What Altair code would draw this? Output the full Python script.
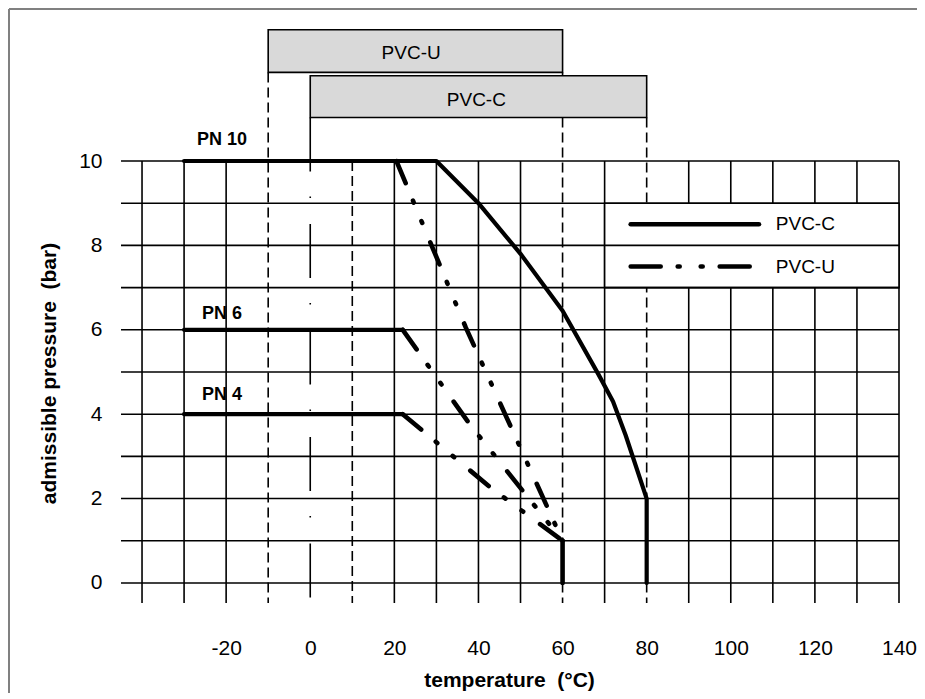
import altair as alt
import pandas as pd

FONT = "Liberation Sans"

# ---------------- data ----------------
GRID_Y = [0, 1, 2, 3, 4, 5, 6, 7, 8, 9, 10]
GRID_X_SOLID = [-40, -30, -20, 20, 30, 40, 50, 70, 90, 100, 110, 120, 130, 140]
GRID_X_DASHED = [-10, 10, 60, 80]
GRID_X_DASHED_TOP = [12.10, 10, 12.10, 11.03]
GRID_X_DASHDOT = [0]
GRID_X_DASHDOT_TOP = [11.03]
GRID_TOP = 10
X_MIN, X_MAX = -45, 140
Y_MIN, Y_MAX = -0.475, 13.2

X_TICKS = [-20, 0, 20, 40, 60, 80, 100, 120, 140]
Y_TICKS = [0, 2, 4, 6, 8, 10]

BOX_LABELS = ["PVC-U", "PVC-C"]
BOX_T0 = [-10, 0]
BOX_T1 = [60, 80]
BOX_P0 = [12.10, 11.03]
BOX_P1 = [13.11, 12.02]
BOX_TEXT_T = [24, 39.5]
BOX_TEXT_P = [12.55, 11.45]

# PVC-C curve (PN 10)
PVC_C_T = [-30, 30, 40, 50, 60, 68.5, 72, 75, 80, 80]
PVC_C_P = [10, 10, 9, 7.8, 6.45, 4.95, 4.3, 3.5, 2.0, 0]

# flat (solid) parts of PN 6 and PN 4
FLAT_NAMES = ["PN 6", "PN 4"]
FLAT_T = [[-30, 22], [-30, 22]]
FLAT_P = [[6, 6], [4, 4]]

# PVC-U sloped parts
PVCU_NAMES = ["PN 10", "PN 6", "PN 4"]
PVCU_T = [[20.5, 37, 60], [22, 38, 60], [22, 43, 60]]
PVCU_P = [[10, 6.05, 1], [6, 3.75, 1], [4, 2.25, 1]]
PVCU_DROP_T = [60, 60]
PVCU_DROP_P = [1, 0]

PN_LABELS = ["PN 10", "PN 6", "PN 4"]
PN_T = [-21, -21, -21]
PN_P = [10.51, 6.38, 4.45]

LEGEND_BOX_T = [70, 140]
LEGEND_BOX_P = [7, 9]
LEGEND_LABELS = ["PVC-C", "PVC-U"]
LEGEND_P = [8.5, 7.5]
LEGEND_LINE_T = [76.2, 106.7]
LEGEND_TEXT_T = 110.7

# ---------------- scales / axes ----------------
xs = alt.Scale(domain=[X_MIN, X_MAX], nice=False, zero=False)
ys = alt.Scale(domain=[Y_MIN, Y_MAX], nice=False, zero=False)

xaxis = alt.Axis(values=X_TICKS, grid=False, ticks=False, domain=False,
                 labelExpr="'' + datum.value",
                 labelFontSize=21, labelFont=FONT, labelColor="black",
                 labelPadding=34, labelFlush=False, labelOverlap=False,
                 title="temperature\u00a0 (°C)", titleFont=FONT, titleFontSize=21,
                 titleFontWeight="bold", titleColor="black",
                 titleX=388, titleY=83.6, titleAlign="center", titleBaseline="alphabetic")
yaxis = alt.Axis(values=Y_TICKS, grid=False, ticks=False, domain=False,
                 labelExpr="'' + datum.value",
                 labelFontSize=21, labelFont=FONT, labelColor="black",
                 labelPadding=19, labelFlush=False, labelOverlap=False,
                 title="admissible pressure\u00a0 (bar)", titleFont=FONT, titleFontSize=21,
                 titleFontWeight="bold", titleColor="black",
                 titleX=-72, titleY=347, titleAngle=270, titleAlign="center",
                 titleBaseline="middle")


def X(f):
    return alt.X(f, type="quantitative", scale=xs, axis=xaxis)


def Y(f):
    return alt.Y(f, type="quantitative", scale=ys, axis=yaxis)


GRID_W = 1.6

# vertical grid lines
vs_df = pd.DataFrame({"t": GRID_X_SOLID, "top": GRID_TOP, "bot": Y_MIN})
v_solid = alt.Chart(vs_df).mark_rule(color="black", strokeWidth=GRID_W).encode(
    x=X("t"), y=Y("top"), y2="bot")

vd_df = pd.DataFrame({"t": GRID_X_DASHED, "top": GRID_X_DASHED_TOP, "bot": Y_MIN})
v_dash = alt.Chart(vd_df).mark_rule(color="black", strokeWidth=GRID_W, strokeDash=[10, 5]).encode(
    x=X("t"), y=Y("top"), y2="bot")

vdd_df = pd.DataFrame({"t": GRID_X_DASHDOT, "top": GRID_X_DASHDOT_TOP, "bot": Y_MIN})
v_dashdot = alt.Chart(vdd_df).mark_rule(color="black", strokeWidth=GRID_W,
                                        strokeDash=[54, 25, 1.5, 26]).encode(
    x=X("t"), y=Y("top"), y2="bot")

# legend box (white, masks grid)
lb_df = pd.DataFrame({"t0": [LEGEND_BOX_T[0]], "t1": [LEGEND_BOX_T[1]],
                      "p0": [LEGEND_BOX_P[0]], "p1": [LEGEND_BOX_P[1]]})
legend_box = alt.Chart(lb_df).mark_rect(fill="white", stroke="black", strokeWidth=GRID_W).encode(
    x=X("t0"), x2="t1", y=Y("p0"), y2="p1")

# horizontal grid lines
h_df = pd.DataFrame({"p": GRID_Y, "l": X_MIN, "r": X_MAX})
h_grid = alt.Chart(h_df).mark_rule(color="black", strokeWidth=GRID_W).encode(
    y=Y("p"), x=X("l"), x2="r")

# top boxes
box_df = pd.DataFrame({"label": BOX_LABELS, "t0": BOX_T0, "t1": BOX_T1,
                       "p0": BOX_P0, "p1": BOX_P1, "tt": BOX_TEXT_T, "tp": BOX_TEXT_P})
boxes = alt.Chart(box_df).mark_rect(fill="#d9d9d9", stroke="black", strokeWidth=GRID_W).encode(
    x=X("t0"), x2="t1", y=Y("p0"), y2="p1")
box_text = alt.Chart(box_df).mark_text(font=FONT, fontSize=19, color="black",
                                       align="center", baseline="middle").encode(
    x=X("tt"), y=Y("tp"), text="label:N")

# PVC-C line
c_df = pd.DataFrame({"t": PVC_C_T, "p": PVC_C_P, "i": range(len(PVC_C_T))})
c_line = alt.Chart(c_df).mark_line(color="black", strokeWidth=4.2, strokeCap="round",
                                   strokeJoin="round").encode(
    x=X("t"), y=Y("p"), order="i:Q")

# flat parts
rows = []
for n, ts, ps in zip(FLAT_NAMES, FLAT_T, FLAT_P):
    for i, (t, p) in enumerate(zip(ts, ps)):
        rows.append({"s": n, "t": t, "p": p, "i": i})
flat = alt.Chart(pd.DataFrame(rows)).mark_line(color="black", strokeWidth=4.2,
                                               strokeCap="round").encode(
    x=X("t"), y=Y("p"), detail="s:N", order="i:Q")

# PVC-U sloped dash-dot-dot parts
rows = []
for n, ts, ps in zip(PVCU_NAMES, PVCU_T, PVCU_P):
    for i, (t, p) in enumerate(zip(ts, ps)):
        rows.append({"s": n, "t": t, "p": p, "i": i})
PVCU_DASH = [24, 19, 2, 20, 2, 21]
u_lines = alt.Chart(pd.DataFrame(rows)).mark_line(color="black", strokeWidth=4.6,
                                                  strokeCap="round", strokeDash=PVCU_DASH).encode(
    x=X("t"), y=Y("p"), detail="s:N", order="i:Q")

drop_df = pd.DataFrame({"t": PVCU_DROP_T, "p": PVCU_DROP_P, "i": [0, 1]})
u_drop = alt.Chart(drop_df).mark_line(color="black", strokeWidth=4.6, strokeCap="round").encode(
    x=X("t"), y=Y("p"), order="i:Q")

# PN labels
pn_df = pd.DataFrame({"label": PN_LABELS, "t": PN_T, "p": PN_P})
pn_text = alt.Chart(pn_df).mark_text(font=FONT, fontSize=18, fontWeight="bold", color="black",
                                     align="center", baseline="middle").encode(
    x=X("t"), y=Y("p"), text="label:N")

# legend entries
leg_df = pd.DataFrame({"label": LEGEND_LABELS, "p": LEGEND_P,
                       "t0": LEGEND_LINE_T[0], "t1": LEGEND_LINE_T[1], "tt": LEGEND_TEXT_T})
leg_c = alt.Chart(leg_df.iloc[[0]]).mark_rule(color="black", strokeWidth=4.6, strokeCap="round").encode(
    x=X("t0"), x2="t1", y=Y("p"))
leg_u = alt.Chart(leg_df.iloc[[1]]).mark_rule(color="black", strokeWidth=4.6, strokeCap="round",
                                              strokeDash=[30, 17, 2, 21, 2, 17]).encode(
    x=X("t0"), x2="t1", y=Y("p"))
leg_text = alt.Chart(leg_df).mark_text(font=FONT, fontSize=19, color="black",
                                       align="left", baseline="middle").encode(
    x=X("tt"), y=Y("p"), text="label:N")

W, H = 778, 577
PAD = {"left": 113, "top": 18, "right": 18, "bottom": 90}

# outer frame (top and left edges of the picture)
frame_top = alt.Chart(pd.DataFrame({"a": [0]})).mark_rule(color="#808080", strokeWidth=2).encode(
    x=alt.value(-PAD["left"] + 1), x2=alt.value(W + PAD["right"]), y=alt.value(-PAD["top"] + 1))
frame_left = alt.Chart(pd.DataFrame({"a": [0]})).mark_rule(color="#808080", strokeWidth=2).encode(
    x=alt.value(-PAD["left"] + 1), y=alt.value(-PAD["top"] + 1), y2=alt.value(H + PAD["bottom"]))

chart = alt.layer(
    v_solid, v_dash, v_dashdot, legend_box, h_grid, boxes, box_text,
    c_line, flat, u_lines, u_drop, pn_text, leg_c, leg_u, leg_text,
    frame_top, frame_left
).properties(
    width=W, height=H, padding=PAD,
    autosize=alt.AutoSizeParams(type="none"),
    background="white",
).configure_view(strokeWidth=0)

chart.save("out.html", embed_options={"renderer": "svg", "actions": False})
